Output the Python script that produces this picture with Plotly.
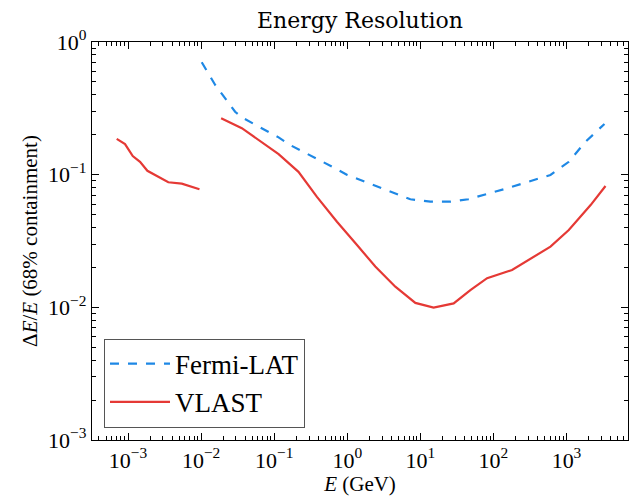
import plotly.graph_objects as go

# Fermi-LAT energy resolution
fermi_E = [0.0102, 0.0156, 0.0292, 0.038, 0.115, 0.166, 0.617, 1.0, 7.3, 13.7, 25.6, 45.5, 138, 604, 1076, 1820, 3310]
fermi_R = [0.703, 0.474, 0.298, 0.266, 0.191, 0.167, 0.115, 0.0995, 0.0653, 0.0626, 0.0626, 0.0653, 0.0776, 0.0995, 0.125, 0.177, 0.241]

# VLAST low-energy segment
vlast_low_E = [7.0e-4, 9.1e-4, 1.16e-3, 1.46e-3, 1.84e-3, 2.34e-3, 3.56e-3, 5.44e-3, 7.07e-3, 9.5e-3]
vlast_low_R = [0.186, 0.170, 0.138, 0.125, 0.107, 0.0995, 0.0877, 0.0855, 0.0822, 0.0776]

# VLAST high-energy segment
vlast_high_E = [0.0188, 0.0361, 0.115, 0.215, 0.385, 0.723, 1.36, 2.42, 4.55, 8.55, 15.2, 28.6, 48.4, 82, 180, 604, 1076, 2140, 3420]
vlast_high_R = [0.266, 0.224, 0.143, 0.105, 0.068, 0.0442, 0.0295, 0.0203, 0.0143, 0.0108, 0.00995, 0.0107, 0.0135, 0.0166, 0.0191, 0.0287, 0.0383, 0.059, 0.0822]

x_tickvals = [1e-3, 1e-2, 1e-1, 1, 10, 100, 1000]
x_ticktext = ["10<sup>−3</sup>", "10<sup>−2</sup>", "10<sup>−1</sup>", "10<sup>0</sup>", "10<sup>1</sup>", "10<sup>2</sup>", "10<sup>3</sup>"]
y_tickvals = [1e-3, 1e-2, 1e-1, 1]
y_ticktext = ["10<sup>−3</sup>", "10<sup>−2</sup>", "10<sup>−1</sup>", "10<sup>0</sup>"]

FONT = "Liberation Serif"
XR = [-3.493, 3.842]
YR = [-3, 0]

fig = go.Figure()
fig.add_trace(go.Scatter(x=fermi_E, y=fermi_R, mode="lines", name="Fermi-LAT",
                         line=dict(color="#1E88E5", width=2.2, dash="dash")))
fig.add_trace(go.Scatter(x=vlast_low_E + [None] + vlast_high_E,
                         y=vlast_low_R + [None] + vlast_high_R,
                         mode="lines", name="VLAST", connectgaps=False,
                         line=dict(color="#E53935", width=2.2)))

major = dict(type="log", showline=True, linecolor="black", linewidth=1.2,
             mirror="allticks", ticks="inside", ticklen=7, tickwidth=1.3,
             tickcolor="black", showgrid=False, zeroline=False,
             tickfont=dict(family=FONT, size=22, color="black"))
minor_ticks = dict(dtick="D1", ticks="inside", ticklen=4, tickwidth=1,
                   tickcolor="black", showgrid=False)

fig.update_layout(
    xaxis=dict(range=XR, tickmode="array", tickvals=x_tickvals, ticktext=x_ticktext,
               minor=minor_ticks,
               title=dict(text="<i>E</i> (GeV)", font=dict(family=FONT, size=21, color="black"), standoff=2),
               **major),
    yaxis=dict(range=YR, tickmode="array", tickvals=y_tickvals, ticktext=y_ticktext,
               minor=minor_ticks,
               title=dict(text="Δ<i>E</i>/<i>E</i> (68% containment)", font=dict(family=FONT, size=21, color="black"), standoff=4),
               **major),
)

fig.update_layout(
    width=638, height=498,
    margin=dict(l=92, r=10, t=42, b=58),
    paper_bgcolor="white", plot_bgcolor="white",
    title=dict(text="Energy Resolution", x=0.5, xanchor="center", xref="paper",
               y=0.96, yanchor="middle", font=dict(family="DejaVu Serif", size=22, color="black")),
    legend=dict(x=0.0224, y=0.031, xanchor="left", yanchor="bottom",
                bgcolor="white", bordercolor="#555555", borderwidth=1,
                font=dict(family=FONT, size=27, color="black"),
                itemwidth=60, tracegroupgap=0),
    showlegend=True,
)

fig.write_html("out.html")
